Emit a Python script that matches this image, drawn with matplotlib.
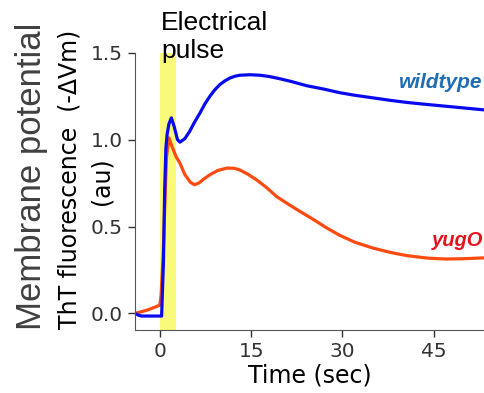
import numpy as np
import matplotlib.pyplot as plt

# time (s) and ThT signal
t_wt = [-4.1, -3.5, -3, 0.3, 0.6, 0.8, 1.0, 1.2, 1.5, 1.9, 2.4, 2.9, 3.3, 4.1, 4.9, 5.7, 6.6, 7.4,
        8.2, 9.0, 9.85, 10.7, 11.5, 12.3, 13.1, 14.8, 16.5, 18.1, 19.7, 21.5, 24.1, 27, 29.5, 32,
        35, 38, 40.5, 43, 46, 49, 53.5]
wildtype = [0.0, -0.01, -0.015, -0.015, 0.3, 0.71, 0.95, 1.03, 1.09, 1.125, 1.07, 1.0, 0.985,
            1.005, 1.047, 1.1, 1.153, 1.205, 1.248, 1.285, 1.316, 1.338, 1.354, 1.364, 1.37,
            1.373, 1.37, 1.362, 1.35, 1.335, 1.31, 1.29, 1.27, 1.255, 1.24, 1.225, 1.214, 1.205,
            1.195, 1.185, 1.17]

t_yugo = [-4.1, -3, -2, -1, 0, 0.2, 0.55, 0.8, 1.1, 1.5, 2.0, 2.7, 3.3, 4.1, 5.0, 5.7, 6.5, 7.3,
          8.2, 9.5, 11, 12.2, 13.1, 14.5, 15.9, 17.5, 19.2, 20.8, 22.4, 25, 27.5, 29.5, 32, 35,
          38, 40.5, 44, 47, 50, 53.5]
yugO = [0.0, 0.01, 0.02, 0.033, 0.048, 0.1, 0.33, 0.6, 0.9, 1.01, 0.96, 0.9, 0.865, 0.8, 0.755,
        0.74, 0.752, 0.775, 0.797, 0.822, 0.836, 0.835, 0.826, 0.8, 0.768, 0.725, 0.672, 0.635,
        0.6, 0.545, 0.49, 0.45, 0.41, 0.376, 0.35, 0.333, 0.318, 0.313, 0.315, 0.32]

pulse = (0.1, 2.6)
xticks = [0, 15, 30, 45]
yticks = [0.0, 0.5, 1.0, 1.5]

fig = plt.figure(figsize=(4.85, 3.93), dpi=100)
ax = fig.add_axes([0.278, 0.160, 0.722, 0.706])

ax.axvspan(pulse[0], pulse[1], color='#FAFA7A', lw=0, zorder=0)
ax.plot(t_yugo, yugO, color='#FF4A10', lw=2.3)
ax.plot(t_wt, wildtype, color='#0A0AF0', lw=2.3)

ax.set_xlim(-4.1, 53.4)
ax.set_ylim(-0.096, 1.5)
ax.set_xticks(xticks)
ax.set_yticks(yticks)
ax.tick_params(labelsize=14.5, colors='#333333', length=5, width=1)
for s in ['top', 'right']:
    ax.spines[s].set_visible(False)
for s in ['left', 'bottom']:
    ax.spines[s].set_color('#555555')
ax.set_xlabel('Time (sec)', fontsize=17, labelpad=2)

# y label as two pieces, like the reference layout
fig.text(70 / 485, 1 - 179 / 393, 'ThT fluorescence  (-ΔVm)', rotation=90,
         ha='center', va='center', fontsize=17)
fig.text(102 / 485, 1 - 181 / 393, '(au)', rotation=90, ha='center', va='center', fontsize=17)
fig.text(32 / 485, 1 - 176 / 393, 'Membrane potential', rotation=90, ha='center',
         va='center', fontsize=25, color='#404040', family='Liberation Sans')
fig.text(161 / 485, 1 - 11 / 393, 'Electrical\npulse', ha='left', va='top', fontsize=19,
         family='Liberation Sans', linespacing=1.2)

ax.text(46.1, 1.326, 'wildtype', color='#1F6DB3', fontsize=15, fontweight='bold',
        style='italic', ha='center', va='center', family='Liberation Sans')
ax.text(44.6, 0.42, 'yugO', color='#E3141E', fontsize=14.5, fontweight='bold',
        style='italic', ha='left', va='center', family='Liberation Sans', clip_on=False)

fig.savefig('out.png', dpi=100)
